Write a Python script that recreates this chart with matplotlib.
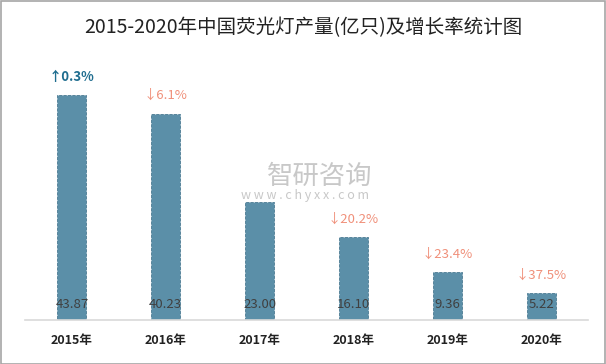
import matplotlib
matplotlib.use("Agg")
import matplotlib.pyplot as plt
from matplotlib.patches import Rectangle

plt.rcParams['font.family'] = ['Noto Sans CJK SC', 'DejaVu Sans']

years = ['2015年', '2016年', '2017年', '2018年', '2019年', '2020年']
output = [43.87, 40.23, 23.00, 16.10, 9.36, 5.22]
growth = ['↑0.3%', '↓6.1%', '', '↓20.2%', '↓23.4%', '↓37.5%']
growth_up = [True, False, False, False, False, False]

W, H = 606, 364
fig = plt.figure(figsize=(W/100, H/100), dpi=100)
ax = fig.add_axes([25/W, (H-320)/H, (588-25)/W, (320-60)/H])

x = list(range(len(years)))
ax.bar(x, output, width=0.31, color='#5B8FA8', edgecolor='#4a7a92',
       linewidth=0.6, linestyle='--', zorder=2)
ax.set_xlim(-0.5, len(years) - 0.5)
ax.set_ylim(0, 50.7)

for xi, v in zip(x, output):
    ax.text(xi, 3.0, f'{v:.2f}', ha='center', va='center', fontsize=9.5,
            color='#404040', zorder=3)

for xi, v, g, up in zip(x, output, growth, growth_up):
    if not g:
        continue
    ax.text(xi, v + 3.5, g, ha='center', va='center', fontsize=9.5,
            color='#1f6d8f' if up else '#F0907A',
            fontweight='bold' if up else 'normal', zorder=3)

ax.set_xticks(x)
ax.set_xticklabels(years, fontsize=9, fontweight='bold', color='#222222')
ax.tick_params(axis='x', length=0, pad=10)
ax.set_yticks([])
for s in ['top', 'right', 'left']:
    ax.spines[s].set_visible(False)
ax.spines['bottom'].set_color('#d9d9d9')
ax.spines['bottom'].set_linewidth(1.2)

# watermark
fig.text(320/W, 1 - 176/H, '智研咨询', ha='center', va='center', fontsize=19,
         color='#c8c8c8', zorder=1)
fig.text(305/W, 1 - 196/H, 'w w w . c h y x x . c o m', ha='center', va='center',
         fontsize=9, color='#c8c8c8', zorder=1)

fig.text(0.5, 1 - 28/H, '2015-2020年中国荧光灯产量(亿只)及增长率统计图',
         ha='center', va='center', fontsize=14, color='#222222')

fig.patches.append(Rectangle((0.5/W, 0.5/H), 1 - 1.5/W, 1 - 1.5/H,
                             transform=fig.transFigure, fill=False,
                             edgecolor='#a6a6a6', linewidth=1.2))

fig.savefig('out.png', dpi=100)
